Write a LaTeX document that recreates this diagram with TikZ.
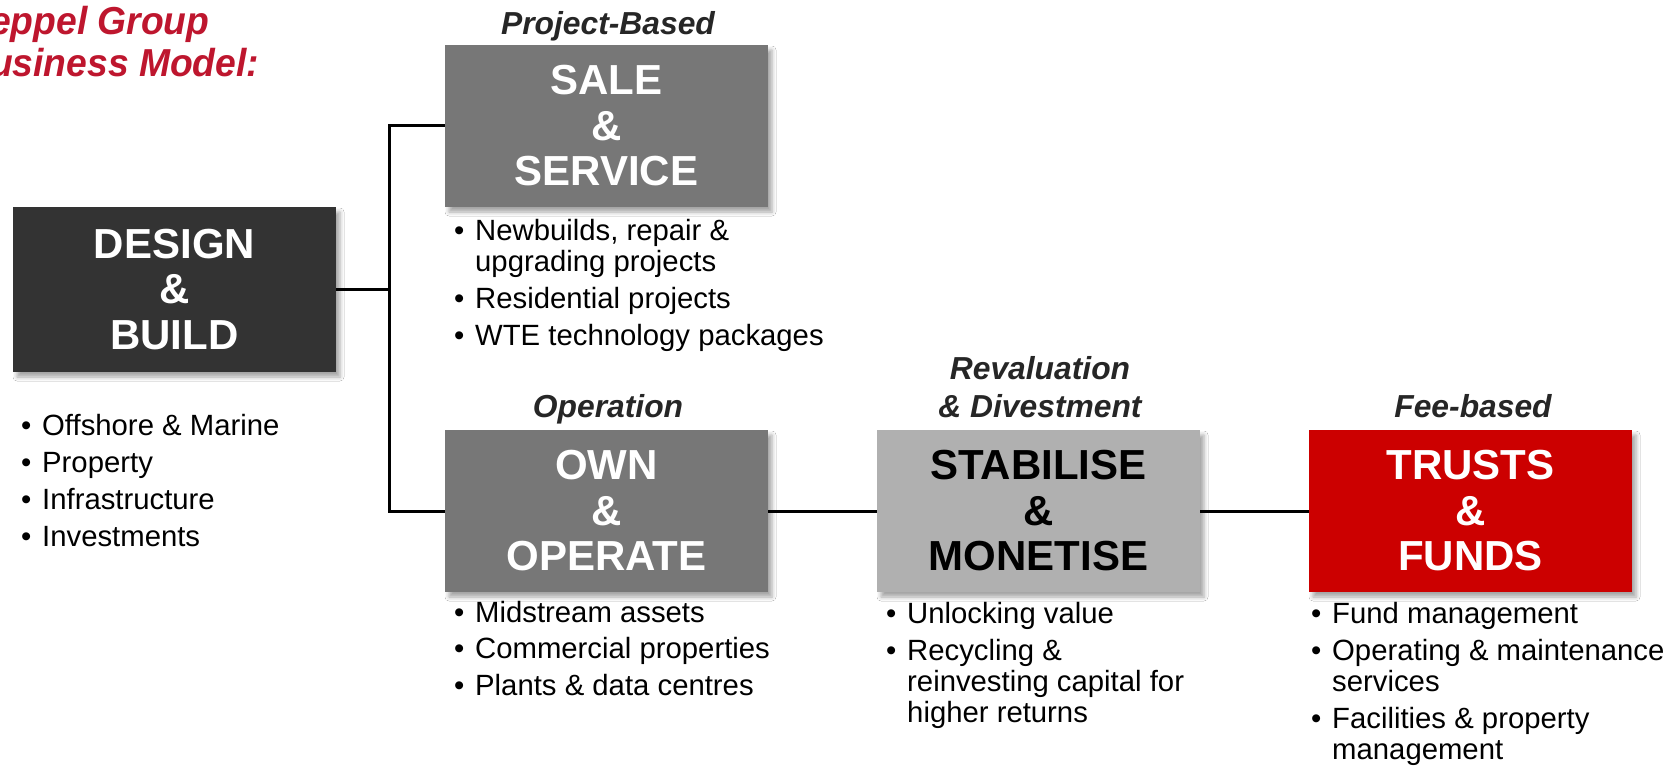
\documentclass[tikz,border=0pt]{standalone}
\usepackage{fontspec}
\setmainfont{Liberation Sans}
\newfontfamily\titlefont[FakeStretch=0.955]{Liberation Sans}
\usetikzlibrary{shadows,shadows.blur,calc}
\definecolor{titlered}{RGB}{190,22,46}
\definecolor{darkbox}{RGB}{51,51,51}
\definecolor{midbox}{RGB}{119,119,119}
\definecolor{lightbox}{RGB}{176,176,176}
\definecolor{redbox}{RGB}{204,0,0}
\definecolor{labelgray}{RGB}{38,38,38}
\newcommand\itm{\makebox[21pt][l]{\textbullet}}
\newcommand\lcont{\hspace*{21pt}}
\tikzset{
  box/.style={rectangle, inner sep=0pt, minimum width=323pt, minimum height=162pt,
    align=center, font=\fontsize{42}{45.5}\selectfont\bfseries, text=white,
    blur shadow={shadow xshift=4pt, shadow yshift=-5pt, shadow blur radius=4pt, shadow opacity=35}},
  phase/.style={anchor=base, inner sep=0pt, text=labelgray,
    font=\fontsize{31.8}{37}\selectfont\bfseries\itshape},
  itemlist/.style={anchor=base west, inner sep=0pt, font=\fontsize{29.3}{31}\selectfont},
  conn/.style={line width=3pt, black},
}
\begin{document}
\begin{tikzpicture}[x=1pt, y=-1pt]
\useasboundingbox (0,0) rectangle (1677,765);
\fill[white] (0,0) rectangle (1677,765);
\clip (0,0) rectangle (1677,765);

% title
\node[anchor=base west, inner sep=0pt, text=titlered,
  font=\titlefont\fontsize{39}{42}\selectfont\bfseries\itshape] (title) at (-37,35)
  {\begin{tabular}[t]{@{}l@{}}Keppel Group\\Business Model:\end{tabular}};

% boxes
\node[box, fill=darkbox, minimum height=165pt] (design) at (174.5,289.5) {DESIGN\\\&\\BUILD};
\node[box, fill=midbox] (sale) at (606.5,126) {SALE\\\&\\SERVICE};
\node[box, fill=midbox] (own) at (606.5,511) {OWN\\\&\\OPERATE};
\node[box, fill=lightbox, text=black] (stab) at (1038.5,511) {STABILISE\\\&\\MONETISE};
\node[box, fill=redbox] (trust) at (1470.5,511) {TRUSTS\\\&\\FUNDS};

% phase labels
\node[phase] (lproj) at (608,35) {Project-Based};
\node[phase] (lop) at (608,417) {Operation};
\node[phase] (lrev) at (1040,379) {Revaluation};
\node[phase] (ldiv) at (1040,417) {\& Divestment};
\node[phase] (lfee) at (1473,417) {Fee-based};

% lists
\node[itemlist] (dlist) at (21,435) {\begin{tabular}[t]{@{}l@{}}
  \itm Offshore \& Marine\\[6pt]
  \itm Property\\[6pt]
  \itm Infrastructure\\[6pt]
  \itm Investments\end{tabular}};
\node[itemlist] (slist) at (454,240) {\begin{tabular}[t]{@{}l@{}}
  \itm Newbuilds, repair \&\\
  \lcont upgrading projects\\[6pt]
  \itm Residential projects\\[6pt]
  \itm WTE technology packages\end{tabular}};
\node[itemlist] (olist) at (454,622) {\begin{tabular}[t]{@{}l@{}}
  \itm Midstream assets\\[5.5pt]
  \itm Commercial properties\\[5.5pt]
  \itm Plants \& data centres\end{tabular}};
\node[itemlist] (stlist) at (886,623) {\begin{tabular}[t]{@{}l@{}}
  \itm Unlocking value\\[6pt]
  \itm Recycling \&\\
  \lcont reinvesting capital for\\
  \lcont higher returns\end{tabular}};
\node[itemlist] (tlist) at (1311,623) {\begin{tabular}[t]{@{}l@{}}
  \itm Fund management\\[6pt]
  \itm Operating \& maintenance\\
  \lcont services\\[6pt]
  \itm Facilities \& property\\
  \lcont management\end{tabular}};

% connectors
\draw[conn] (design.east) -- ++(53,0) coordinate (j);
\draw[conn] (sale.west) -| (j) |- (own.west);
\draw[conn] (own.east) -- (stab.west);
\draw[conn] (stab.east) -- (trust.west);
\end{tikzpicture}
\end{document}
